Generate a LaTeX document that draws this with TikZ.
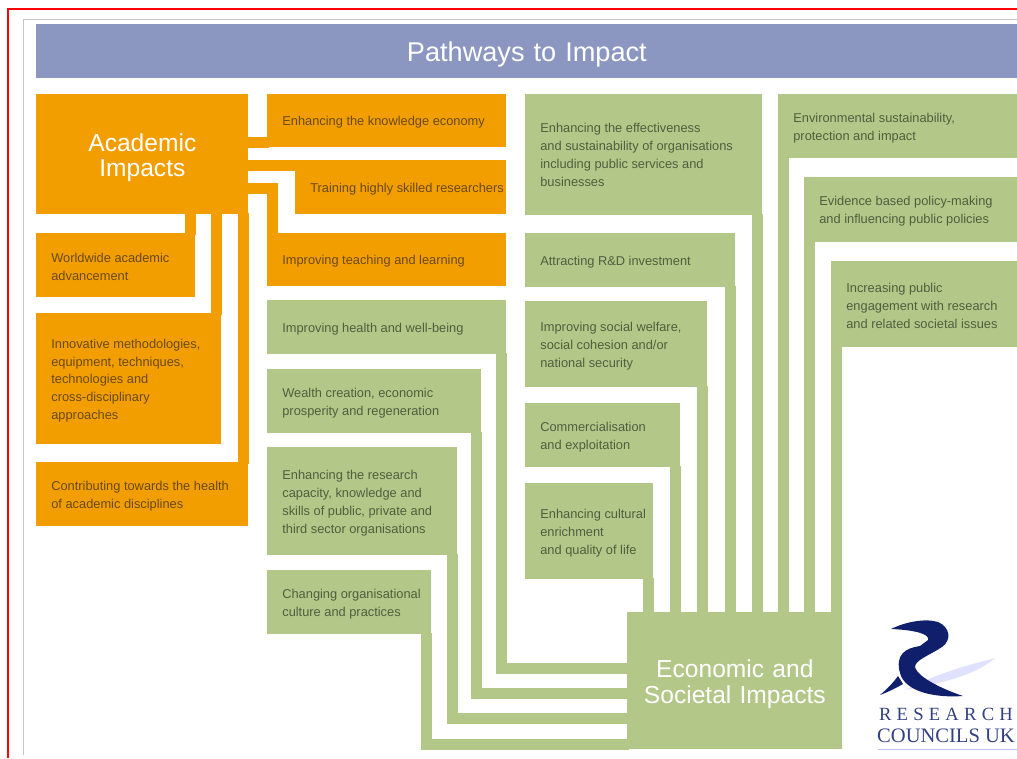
\documentclass[tikz,border=0pt]{standalone}
\usepackage{fontspec}
\setmainfont{Liberation Sans}
\newfontfamily\logofont{Liberation Serif}
\newfontfamily\logospaced[LetterSpace=28]{Liberation Serif}
\definecolor{bandBlue}{HTML}{8C97C1}
\definecolor{acadOrange}{HTML}{F29E00}
\definecolor{econGreen}{HTML}{B3C788}
\definecolor{acadText}{HTML}{6A4A12}
\definecolor{econText}{HTML}{4F5F3F}
\definecolor{logoBlue}{HTML}{0F1F6C}

\begin{document}
\begin{tikzpicture}
    [x = 0.02cm, y = -0.02cm,
     size/.style 2 args = {minimum width = #1*0.02cm, minimum height = #2*0.02cm,
                           text width = #1*0.02cm},
     smallText/.style = {anchor = north west, inner sep = 0pt, align = flush left,
                         font = \fontsize{7.3}{10.2}\selectfont,
                         execute at begin node = {\leftskip = 0.3cm\relax},
                         execute at end node = {\endgraf\vspace{-0.07cm}}},
     acadNode/.style = {smallText, fill = acadOrange, text = acadText},
     econNode/.style = {smallText, fill = econGreen, text = econText},
     bigNode/.style = {anchor = north west, inner sep = 0pt, align = center, text = white,
                       font = \fontsize{14}{14.5}\selectfont,
                       execute at end node = {\endgraf\vspace{-0.14cm}}},
     acadLink/.style = {line width = 0.215cm, draw = acadOrange,
                        shorten <= -1pt, shorten >= -1pt},
     econLink/.style = {line width = 0.215cm, draw = econGreen,
                        shorten <= -1pt, shorten >= -1pt}]

    \useasboundingbox (0,0) rectangle (1017,758);

    \draw [red, line width = 0.04cm] (8,758) -- (8,9) -- (1017,9);
    \draw [black!22, line width = 0.02cm] (23,755) -- (23,19) -- (1017,19);

    \node at (36,24) [bigNode, size = {981}{54}, fill = bandBlue,
                      font = \fontsize{15.45}{16}\selectfont] (title) {Pathways to Impact};

    % academic side
    \node at (36,94)   [bigNode, size = {212}{120}, fill = acadOrange] (academic) {Academic\\Impacts};

    \node at (267,94)  [acadNode, size = {239}{53}]  (economy) {Enhancing the knowledge economy};
    \node at (295,160) [acadNode, size = {211}{54}]  (training) {Training highly skilled researchers};
    \node at (267,233) [acadNode, size = {239}{53}]  (teaching) {Improving teaching and learning};
    \node at (36,233)  [acadNode, size = {159}{64}]  (worldwide) {Worldwide academic\\advancement};
    \node at (36,313)  [acadNode, size = {185}{131}] (methods) {Innovative methodologies,\\equipment, techniques,\\technologies and\\cross-disciplinary\\approaches};
    \node at (36,462)  [acadNode, size = {212}{64}]  (disciplines) {Contributing towards the health\\of academic disciplines};

    % economic side, first column
    \node at (267,300) [econNode, size = {239}{54}]  (health) {Improving health and well-being};
    \node at (267,369) [econNode, size = {214}{64}]  (wealth) {Wealth creation, economic\\prosperity and regeneration};
    \node at (267,447) [econNode, size = {190}{108}] (capacity) {Enhancing the research\\capacity, knowledge and\\skills of public, private and\\third sector organisations};
    \node at (267,570) [econNode, size = {164}{64}]  (culture) {Changing organisational\\culture and practices};

    % second column
    \node at (525,94)  [econNode, size = {237}{121}, execute at end node = {\vspace{0.08cm}}] (effective) {Enhancing the effectiveness\\and sustainability of organisations\\including public services and\\businesses};
    \node at (525,233) [econNode, size = {210}{54}]  (investment) {Attracting R\&D investment};
    \node at (525,301) [econNode, size = {182}{86}]  (welfare) {Improving social welfare,\\social cohesion and/or\\national security};
    \node at (525,403) [econNode, size = {155}{64}]  (commerce) {Commercialisation\\and exploitation};
    \node at (525,483) [econNode, size = {128}{96}]  (cultural) {Enhancing cultural\\enrichment\\and quality of life};

    % third column
    \node at (778,94)  [econNode, size = {239}{64}]  (environment) {Environmental sustainability,\\protection and impact};
    \node at (804,177) [econNode, size = {213}{65}]  (evidence) {Evidence based policy-making\\and influencing public policies};
    \node at (831,261) [econNode, size = {186}{86}]  (engagement) {Increasing public\\engagement with research\\and related societal issues};

    \node at (627,612) [bigNode, size = {215}{137}, fill = econGreen] (econ) {Economic and\\Societal Impacts};

    % links to academic
    \draw [acadLink] ([yshift = 0.24cm]academic.east) -- ([yshift = 0.24cm]academic.east -| economy.west);
    \draw [acadLink] ([yshift = -0.23cm]academic.east) -- ([yshift = -0.23cm]academic.east -| training.west);
    \draw [acadLink] ([yshift = -0.69cm]academic.east) -| ([xshift = 0.11cm]teaching.north west);
    \draw [acadLink] ([xshift = -0.11cm]worldwide.north east |- academic.south) -- ([xshift = -0.11cm]worldwide.north east);
    \draw [acadLink] ([xshift = -0.11cm]methods.north east |- academic.south) -- ([xshift = -0.11cm]methods.north east);
    \draw [acadLink] ([xshift = -0.11cm]disciplines.north east |- academic.south) -- ([xshift = -0.11cm]disciplines.north east);

    % links to economic, from the left
    \draw [econLink] ([xshift = -0.11cm]health.south east) |- ([yshift = 1.62cm]econ.south west);
    \draw [econLink] ([xshift = -0.11cm]wealth.south east) |- ([yshift = 1.12cm]econ.south west);
    \draw [econLink] ([xshift = -0.11cm]capacity.south east) |- ([yshift = 0.62cm]econ.south west);
    \draw [econLink] ([xshift = -0.11cm]culture.south east) |- ([yshift = 0.11cm]econ.south west);

    % links to economic, from above
    \draw [econLink] ([xshift = -0.11cm]effective.south east) -- ([xshift = -0.11cm]effective.south east |- econ.north);
    \draw [econLink] ([xshift = -0.11cm]investment.south east) -- ([xshift = -0.11cm]investment.south east |- econ.north);
    \draw [econLink] ([xshift = -0.11cm]welfare.south east) -- ([xshift = -0.11cm]welfare.south east |- econ.north);
    \draw [econLink] ([xshift = -0.11cm]commerce.south east) -- ([xshift = -0.11cm]commerce.south east |- econ.north);
    \draw [econLink] ([xshift = -0.11cm]cultural.south east) -- ([xshift = -0.11cm]cultural.south east |- econ.north);
    \draw [econLink] ([xshift = 0.11cm]environment.south west) -- ([xshift = 0.11cm]environment.south west |- econ.north);
    \draw [econLink] ([xshift = 0.11cm]evidence.south west) -- ([xshift = 0.11cm]evidence.south west |- econ.north);
    \draw [econLink] ([xshift = 0.11cm]engagement.south west) -- ([xshift = 0.11cm]engagement.south west |- econ.north);

    % logo
    \fill [blue!40!white, opacity = 0.3] (905,690) .. controls (945,670) and (970,665) .. (995,658) .. controls (980,672) and (950,682) .. (905,690) -- cycle;
    \fill [logoBlue] (891,629) .. controls (905,622) and (925,618) .. (938,622) .. controls (950,627) and (952,640) .. (942,647)
        .. controls (930,655) and (915,660) .. (915,667) .. controls (918,678) and (945,690) .. (963,696)
        .. controls (935,698) and (905,692) .. (900,673) .. controls (895,655) and (905,648) .. (920,646)
        -- (928,640) .. controls (930,634) and (915,630) .. (891,629) -- cycle;
    \fill [logoBlue] (880,695) .. controls (887,689) and (893,683) .. (898,676) -- (903,684) .. controls (896,688) and (888,692) .. (880,695) -- cycle;

    \node at (946,714) [inner sep = 0pt, text = logoBlue!85!white, font = \logospaced\fontsize{10.6}{12}\selectfont] (research) {RESEARCH};
    \node at (946,736) [inner sep = 0pt, text = logoBlue!85!white, font = \logofont\fontsize{11.7}{12}\selectfont] (councils) {COUNCILS UK};
    \draw [blue!25!white, line width = 0.02cm] (878,749) -- (1017,749);
\end{tikzpicture}
\end{document}
